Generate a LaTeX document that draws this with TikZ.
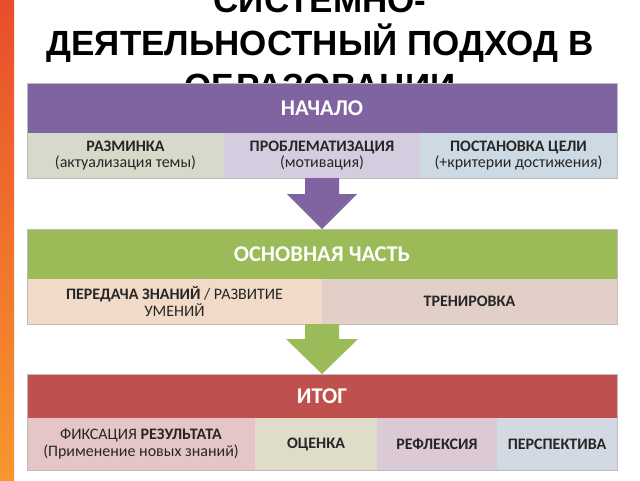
\documentclass[tikz,border=0pt]{standalone}
\usepackage{fontspec}
\setmainfont{Carlito}
\newfontfamily\titlefont{Liberation Sans}
\usetikzlibrary{calc}
\definecolor{barTop}{HTML}{E84E2B}
\definecolor{barBot}{HTML}{F8962D}
\definecolor{hdrPurple}{HTML}{8064A2}
\definecolor{hdrGreen}{HTML}{9BBB59}
\definecolor{hdrRed}{HTML}{C0504D}
\definecolor{cRazm}{HTML}{D7DACB}
\definecolor{cProb}{HTML}{D5CCE0}
\definecolor{cPost}{HTML}{CEDAE3}
\definecolor{cPered}{HTML}{F1DBC8}
\definecolor{cTren}{HTML}{E2CFC7}
\definecolor{cFiks}{HTML}{E5C5C6}
\definecolor{cOcen}{HTML}{DFDCC9}
\definecolor{cRefl}{HTML}{DBC9D6}
\definecolor{cPers}{HTML}{D3D9E2}
\definecolor{txtDark}{HTML}{262626}
\definecolor{edgeGray}{HTML}{BDBDBD}
\begin{document}
\begin{tikzpicture}[x=1pt,y=-1pt,
  titleline/.style={font=\titlefont\bfseries\fontsize{35}{43}\selectfont, anchor=base, inner sep=0pt, text=black},
  hdr/.style={anchor=north west, inner sep=0pt, outer sep=0pt, text=white, font=\bfseries\fontsize{22.5}{26}\selectfont, minimum width=590pt},
  cell/.style={anchor=north west, inner sep=0pt, outer sep=0pt, text=txtDark, align=center, font=\fontsize{16}{16.5}\selectfont},
  outline/.style={draw=edgeGray, line width=0.8pt}
]
\useasboundingbox (0,0) rectangle (640,480);
\clip (0,0) rectangle (640,480);
\fill[white] (0,0) rectangle (640,480);
\shade[top color=barTop, bottom color=barBot] (0,0) rectangle (14,480);

% title
\node[titleline] (title1) at (320,12) {СИСТЕМНО-};
\node[titleline] (title2) at (320,55) {ДЕЯТЕЛЬНОСТНЫЙ ПОДХОД В};
\node[titleline] (title3) at (320,98) {ОБРАЗОВАНИИ};

% block 1
\node[hdr, fill=hdrPurple, minimum height=50pt] (nachalo) at (27,83) {НАЧАЛО};
\node[cell, fill=cRazm, minimum width=197pt, minimum height=45pt] (razm) at (27,133) {{\bfseries РАЗМИНКА}\\(актуализация темы)};
\node[cell, fill=cProb, minimum width=196pt, minimum height=45pt] (prob) at (224,133) {{\bfseries ПРОБЛЕМАТИЗАЦИЯ}\\(мотивация)};
\node[cell, fill=cPost, minimum width=197pt, minimum height=45pt] (post) at (420,133) {{\bfseries ПОСТАНОВКА ЦЕЛИ}\\(+критерии достижения)};
\draw[outline] (nachalo.north west) rectangle (post.south east);

% block 2
\node[hdr, fill=hdrGreen, minimum height=50pt] (osnova) at (27,229) {ОСНОВНАЯ ЧАСТЬ};
\node[cell, fill=cPered, minimum width=295pt, minimum height=45pt] (pered) at (27,279) {{\bfseries ПЕРЕДАЧА ЗНАНИЙ} / РАЗВИТИЕ\\УМЕНИЙ};
\node[cell, fill=cTren, minimum width=295pt, minimum height=45pt] (tren) at (322,279) {\bfseries ТРЕНИРОВКА};
\draw[outline] (osnova.north west) rectangle (tren.south east);

% block 3
\node[hdr, fill=hdrRed, minimum height=44pt] (itog) at (27,374) {ИТОГ};
\node[cell, fill=cFiks, minimum width=228pt, minimum height=52pt] (fiks) at (27,418) {ФИКСАЦИЯ {\bfseries РЕЗУЛЬТАТА}\\(Применение новых знаний)};
\node[cell, fill=cOcen, minimum width=122pt, minimum height=52pt] (ocen) at (255,418) {\bfseries ОЦЕНКА};
\node[cell, fill=cRefl, minimum width=120pt, minimum height=52pt] (refl) at (377,418) {\bfseries РЕФЛЕКСИЯ};
\node[cell, fill=cPers, minimum width=120pt, minimum height=52pt] (pers) at (497,418) {\bfseries ПЕРСПЕКТИВА};
\draw[outline] (itog.north west) rectangle (pers.south east);

% arrows
\fill[hdrPurple] ($(prob.south)+(-17,0)$) -- ($(prob.south)+(17,0)$) -- ($(prob.south)+(17,16)$) -- ($(prob.south)+(35,16)$) -- (osnova.north) -- ($(prob.south)+(-35,16)$) -- ($(prob.south)+(-17,16)$) -- cycle;
\fill[hdrGreen] ($(pered.south east)+(-17,0)$) -- ($(pered.south east)+(17,0)$) -- ($(pered.south east)+(17,15)$) -- ($(pered.south east)+(36,15)$) -- (itog.north) -- ($(pered.south east)+(-36,15)$) -- ($(pered.south east)+(-17,15)$) -- cycle;
\end{tikzpicture}
\end{document}
